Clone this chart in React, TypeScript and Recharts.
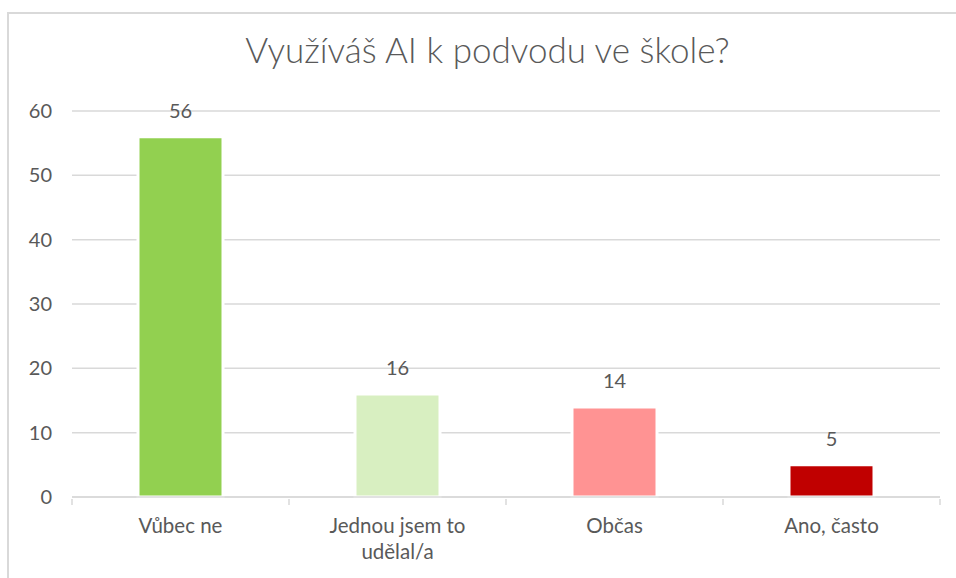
import React from "react";
import { BarChart, Bar, XAxis, YAxis, CartesianGrid, LabelList, Cell, Text } from "recharts";

const title = "Využíváš AI k podvodu ve škole?";
const categories = ["Vůbec ne", "Jednou jsem to udělal/a", "Občas", "Ano, často"];
const values = [56, 16, 14, 5];
const colors = ["#92D050", "#D8EFC1", "#FF9393", "#C00000"];
const yTicks = [0, 10, 20, 30, 40, 50, 60];

const data = categories.map((c, i) => ({ name: c, value: values[i] }));

const FONT = "Lato, 'Open Sans', sans-serif";
const TEXT = "#595959";

const XTick = (props: any) => {
  const { x, y, payload, index, visibleTicksCount } = props;
  const band = 217;
  return (
    <g>
      <line x1={x - band / 2} x2={x - band / 2} y1={y - 6} y2={y} stroke="#d9d9d9" strokeWidth={1.5} />
      {index === (visibleTicksCount ?? 4) - 1 && (
        <line x1={x + band / 2} x2={x + band / 2} y1={y - 6} y2={y} stroke="#d9d9d9" strokeWidth={1.5} />
      )}
      <Text
        x={x}
        y={y + 13}
        width={150}
        textAnchor="middle"
        verticalAnchor="start"
        lineHeight={26}
        fill={TEXT}
        fontSize={20.5}
        fontFamily={FONT}
      >
        {payload.value}
      </Text>
    </g>
  );
};

export default function App() {
  return (
    <div style={{ position: "absolute", left: 0, top: 0, width: 956, height: 578, background: "#fff", overflow: "hidden" }}>
      <div
        style={{
          position: "absolute",
          left: 7,
          top: 12,
          width: 960,
          height: 600,
          borderLeft: "2px solid #d9d9d9",
          borderTop: "2px solid #d9d9d9",
        }}
      />
      <div
        style={{
          position: "absolute",
          left: 0,
          width: 975,
          top: 28,
          textAlign: "center",
          fontFamily: FONT,
          fontWeight: 300,
          fontSize: 35,
          color: TEXT,
          whiteSpace: "nowrap",
        }}
      >
        {title}
      </div>
      <div style={{ position: "absolute", left: 0, top: 0 }}>
        <BarChart width={956} height={578} data={data} margin={{ top: 111, right: 16, bottom: 0, left: 0 }}>
          <CartesianGrid vertical={false} stroke="#d9d9d9" strokeWidth={1.5} />
          <XAxis
            dataKey="name"
            axisLine={{ stroke: "#d9d9d9", strokeWidth: 1.5 }}
            tickLine={false}
            interval={0}
            tick={<XTick />}
            height={81}
          />
          <YAxis
            domain={[0, 60]}
            ticks={yTicks}
            axisLine={false}
            tickLine={false}
            tickSize={0}
            tickMargin={20}
            width={72}
            tick={{ fill: TEXT, fontSize: 20, fontFamily: FONT }}
          />
          <Bar dataKey="value" barSize={85} stroke="#ffffff" strokeWidth={3} isAnimationActive={false}>
            {data.map((d, i) => (
              <Cell key={d.name} fill={colors[i]} />
            ))}
            <LabelList dataKey="value" position="top" offset={19} fill={TEXT} fontSize={20} fontFamily={FONT} />
          </Bar>
        </BarChart>
      </div>
    </div>
  );
}
